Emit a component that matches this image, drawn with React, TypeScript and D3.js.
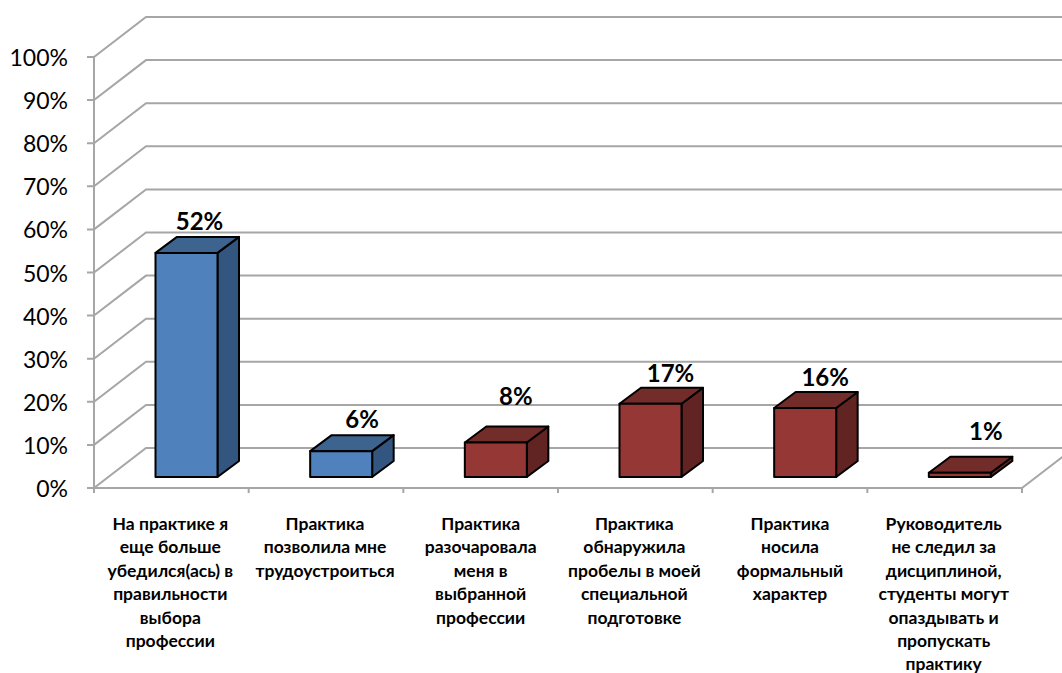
import * as d3 from "d3";

const categories = [
  ["На практике я", "еще больше", "убедился(ась) в", "правильности", "выбора", "профессии"],
  ["Практика", "позволила мне", "трудоустроиться"],
  ["Практика", "разочаровала", "меня в", "выбранной", "профессии"],
  ["Практика", "обнаружила", "пробелы в моей", "специальной", "подготовке"],
  ["Практика", "носила", "формальный", "характер"],
  ["Руководитель", "не следил за", "дисциплиной,", "студенты могут", "опаздывать и", "пропускать", "практику"],
];
const values = [52, 6, 8, 17, 16, 1];
const barGroups = ["blue", "blue", "red", "red", "red", "red"];
const yTicks = [0, 10, 20, 30, 40, 50, 60, 70, 80, 90, 100];

// hand placed offsets of the labels in the original
const valueLabelLift = [23, 23, 38, 22, 22, 33];
const valueLabelShift = [13, 21, 20, 20, 20, 26];
const categoryLabelShift = [-1, -1, 0, -1, 0, -1];

const width = 1062;
const height = 673;
const plot = { left: 94, right: 1022, top: 57, bottom: 488 };
const wall = { dx: 52, dy: 40 };
const depth = { dx: 21.5, dy: 16 };
const barWidth = 62;
const barFloorLift = 11;
const barInset = 61.5;
const gridColor = "#a6a6a6";
const fontFamily = "Lato, 'Noto Sans', sans-serif";

const palette: Record<string, { front: string; top: string; side: string }> = {
  blue: { front: "#4f81bd", top: "#3d638f", side: "#335680" },
  red: { front: "#953735", top: "#722c2a", side: "#622422" },
};

const xScale = d3
  .scaleBand<number>()
  .domain(values.map((_, index) => index))
  .range([plot.left, plot.right]);
const yScale = d3.scaleLinear().domain([0, 100]).range([plot.bottom, plot.top]);

const linePath = d3.line();

export default function App() {
  const ticksX = [...xScale.domain().map((index) => xScale(index) ?? 0), plot.right];

  return (
    <svg
      width={width}
      height={height}
      viewBox={`0 0 ${width} ${height}`}
      style={{ position: "absolute", left: 0, top: 0, background: "#fff" }}
      fontFamily={fontFamily}
    >
      {/* walls and grid */}
      <g fill="none" stroke={gridColor} strokeWidth={2}>
        {yTicks.map((tick) => {
          const y = yScale(tick);
          return (
            <path
              key={tick}
              d={
                linePath([
                  [plot.left - 7, y],
                  [plot.left, y],
                  [plot.left + wall.dx, y - wall.dy],
                  [width + 2, y - wall.dy],
                ]) ?? ""
              }
            />
          );
        })}
        <line x1={plot.left} x2={plot.left} y1={plot.top} y2={plot.bottom + 5} />
        <line x1={plot.left} x2={plot.right} y1={plot.bottom} y2={plot.bottom} />
        <line
          x1={plot.right}
          y1={plot.bottom}
          x2={plot.right + wall.dx}
          y2={plot.bottom - wall.dy}
        />
        {ticksX.map((x) => (
          <line key={x} x1={x} x2={x} y1={plot.bottom} y2={plot.bottom + 5} />
        ))}
      </g>

      {/* y axis labels */}
      <g fontSize={23} fill="#000" textAnchor="end">
        {yTicks.map((tick) => (
          <text key={tick} x={68} y={yScale(tick) + 9}>
            {tick}%
          </text>
        ))}
      </g>

      {/* bars */}
      {values.map((value, index) => {
        const colors = palette[barGroups[index]];
        const x0 = (xScale(index) ?? 0) + barInset;
        const x1 = x0 + barWidth;
        const yBase = plot.bottom - barFloorLift;
        const yTop = yScale(value) - barFloorLift;
        const face = (points: [number, number][]) => (linePath(points) ?? "") + "Z";
        return (
          <g key={index} stroke="#000" strokeWidth={2} strokeLinejoin="round">
            <path
              d={face([
                [x1, yTop],
                [x1 + depth.dx, yTop - depth.dy],
                [x1 + depth.dx, yBase - depth.dy],
                [x1, yBase],
              ])}
              fill={colors.side}
            />
            <path
              d={face([
                [x0, yTop],
                [x0 + depth.dx, yTop - depth.dy],
                [x1 + depth.dx, yTop - depth.dy],
                [x1, yTop],
              ])}
              fill={colors.top}
            />
            <rect x={x0} y={yTop} width={barWidth} height={yBase - yTop} fill={colors.front} />
          </g>
        );
      })}

      {/* value labels */}
      <g fontSize={24} fontWeight={700} fill="#000" textAnchor="middle">
        {values.map((value, index) => (
          <text
            key={index}
            x={(xScale(index) ?? 0) + barInset + barWidth / 2 + valueLabelShift[index]}
            y={yScale(value) - barFloorLift - valueLabelLift[index]}
          >
            {value}%
          </text>
        ))}
      </g>

      {/* category labels */}
      <g fontSize={17.5} fontWeight={700} fill="#000" textAnchor="middle">
        {categories.map((lines, index) => (
          <text key={index}>
            {lines.map((line, lineIndex) => (
              <tspan
                key={lineIndex}
                x={(xScale(index) ?? 0) + xScale.bandwidth() / 2 + categoryLabelShift[index]}
                y={530 + lineIndex * 23.4}
              >
                {line}
              </tspan>
            ))}
          </text>
        ))}
      </g>
    </svg>
  );
}
